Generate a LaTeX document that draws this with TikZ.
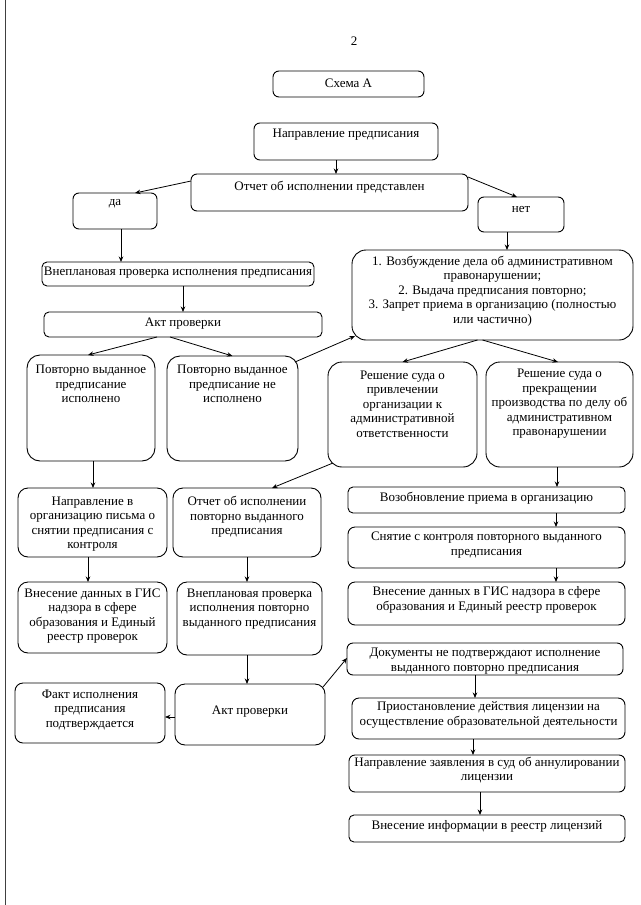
\documentclass[tikz,border=0pt]{standalone}
\usepackage{fontspec}
\setmainfont{Liberation Serif}
\usetikzlibrary{calc,arrows.meta}
\tikzset{
  box/.style={draw=black, line width=0.9pt, inner sep=0pt, outer sep=0pt},
  txt/.style={align=center, inner sep=0pt, font=\fontsize{13}{14.5}\selectfont},
  arr/.style={draw=black, line width=0.8pt, -{Stealth[length=5.5pt,width=4.5pt]}}
}
\newcommand\bx[8][6pt]{%
  \node[box, rounded corners=#1, minimum width={#5-#3}, minimum height={#6-#4}] (#2) at ({(#3+#5)/2},{(#4+#6)/2}) {};
  \node[txt] (#2-t) at ({(#3+#5)/2},#7) {#8};
}
\begin{document}
\begin{tikzpicture}[x=1pt,y=-1pt]
\useasboundingbox (0,0) rectangle (640,905);
\fill[white] (0,0) rectangle (640,905);
\draw[line width=1.4pt, black!75] (5.5,0) -- (5.5,905);
\node[txt] (pagenum) at (354,41) {2};

\bx{schema}{273}{71}{424}{97}{83}{Схема А}
\bx{napr}{254}{123}{438}{160}{135}{Направление предписания}
\bx{otchet}{191}{174}{468}{211}{187}{Отчет об исполнении представлен}
\bx{da}{73}{193}{157}{229}{204}{да}
\bx{net}{478}{197}{564}{232}{209}{нет}
\bx[5pt]{vnepl}{42}{262}{314}{286}{273}{Внеплановая проверка исполнения предписания}
\bx[5pt]{akt1}{44}{312}{322}{337}{324}{Акт проверки}
\bx[14pt]{vozb}{352}{250}{633}{340}{291}{1. Возбуждение дела об административном\\ правонарушении;\\ 2. Выдача предписания повторно;\\ 3. Запрет приема в организацию (полностью\\ или частично)}
\bx[13pt]{povtisp}{27}{355}{155}{461}{384}{Повторно выданное\\ предписание\\ исполнено}
\bx[13pt]{povtneisp}{167}{356}{298}{461}{384}{Повторно выданное\\ предписание не\\ исполнено}
\bx[14pt]{resh1}{328}{362}{477}{467}{404}{Решение суда о\\ привлечении\\ организации к\\ административной\\ ответственности}
\bx[14pt]{resh2}{486}{362}{633}{467}{404}{Решение суда о\\ прекращении\\ производства по делу об\\ административном\\ правонарушении}
\bx[10pt]{naprorg}{18}{488}{167}{557}{524}{Направление в\\ организацию письма о\\ снятии предписания с\\ контроля}
\bx[10pt]{otchpovt}{173}{488}{321}{557}{517}{Отчет об исполнении\\ повторно выданного\\ предписания}
\bx[5pt]{vozobn}{348}{487}{625}{513}{498}{Возобновление приема в организацию}
\bx[7pt]{snyatie}{348}{527}{625}{568}{545}{Снятие с контроля повторного выданного\\ предписания}
\bx[7pt]{vnesr}{348}{582}{625}{625}{600}{Внесение данных в ГИС надзора в сфере\\ образования и Единый реестр проверок}
\bx[10pt]{vnesl}{18}{582}{167}{653}{616}{Внесение данных в ГИС\\ надзора в сфере\\ образования и Единый\\ реестр проверок}
\bx[10pt]{vnepl2}{177}{582}{322}{655}{609}{Внеплановая проверка\\ исполнения повторно\\ выданного предписания}
\bx[6pt]{dokum}{347}{643}{623}{675}{661}{Документы не подтверждают исполнение\\ выданного повторно предписания}
\bx[8pt]{fakt}{15}{683}{165}{743}{710}{Факт исполнения\\ предписания\\ подтверждается}
\bx[10pt]{akt2}{175}{684}{325}{745}{712}{Акт проверки}
\bx[7pt]{priost}{352}{698}{625}{739}{715}{Приостановление действия лицензии на\\ осуществление образовательной деятельности}
\bx[6pt]{naprzayav}{349}{755}{625}{792}{770}{Направление заявления в суд об аннулировании\\ лицензии}
\bx[5pt]{vnesinf}{349}{815}{625}{842}{826}{Внесение информации в реестр лицензий}

% connectors
\draw[arr] ($(napr.south)+(-10,0)$) -- ($(otchet.north)+(6.5,0)$);
\draw[arr] ($(otchet.west)+(0,-11.5)$) -- ($(da.north)+(20,0)$);
\draw[arr] ($(otchet.east)+(0,-15.5)$) -- ($(net.north)+(-4,0)$);
\draw[arr] ($(net.south)+(-14,0)$) -- ($(vozb.north)+(14.5,0)$);
\draw[arr] ($(da.south)+(6,0)$) -- ($(vnepl.north)+(-57,0)$);
\draw[arr] ($(vnepl.south)+(5,0)$) -- ($(akt1.north)+(0,0)$);
\draw[arr] ($(akt1.south)+(-26,0)$) -- ($(povtisp.north)+(-3,0)$);
\draw[arr] ($(akt1.south)+(-13,0)$) -- ($(povtneisp.north)+(0,0)$);
\draw[arr] ($(povtneisp.north east)+(-3,6)$) -- ($(vozb.south west)+(3,-4)$);
\draw[arr] ($(vozb.south)+(-15,0)$) -- ($(resh1.north)+(0,0)$);
\draw[arr] ($(vozb.south)+(-10,0)$) -- ($(resh2.north)+(-1.5,0)$);
\draw[arr] ($(povtisp.south)+(2,0)$) -- ($(naprorg.north)+(0.5,0)$);
\draw[arr] ($(resh1.south west)+(5,-4)$) -- ($(otchpovt.north)+(25,0)$);
\draw[arr] ($(naprorg.south)+(-4.5,0)$) -- ($(vnesl.north)+(-4.5,0)$);
\draw[arr] ($(otchpovt.south)+(0,0)$) -- ($(vnepl2.north)+(-2.5,0)$);
\draw[arr] ($(resh2.south)+(-2.5,0)$) -- ($(vozobn.north)+(70.5,0)$);
\draw[arr] ($(vozobn.south)+(69.5,0)$) -- ($(snyatie.north)+(69.5,0)$);
\draw[arr] ($(snyatie.south)+(69.5,0)$) -- ($(vnesr.north)+(69.5,0)$);
\draw[arr] ($(vnepl2.south)+(-2.5,0)$) -- ($(akt2.north)+(-3,0)$);
\draw[arr] ($(akt2.west)+(0,2.5)$) -- ($(fakt.east)+(0,4)$);
\draw[arr] ($(akt2.north east)+(-2,3)$) -- ($(dokum.west)+(0,-1)$);
\draw[arr] ($(dokum.south)+(-10,0)$) -- ($(priost.north)+(-13.5,0)$);
\draw[arr] ($(priost.south)+(-15.5,0)$) -- ($(naprzayav.north)+(-14,0)$);
\draw[arr] ($(naprzayav.south)+(-7,0)$) -- ($(vnesinf.north)+(-7,0)$);
\end{tikzpicture}
\end{document}
